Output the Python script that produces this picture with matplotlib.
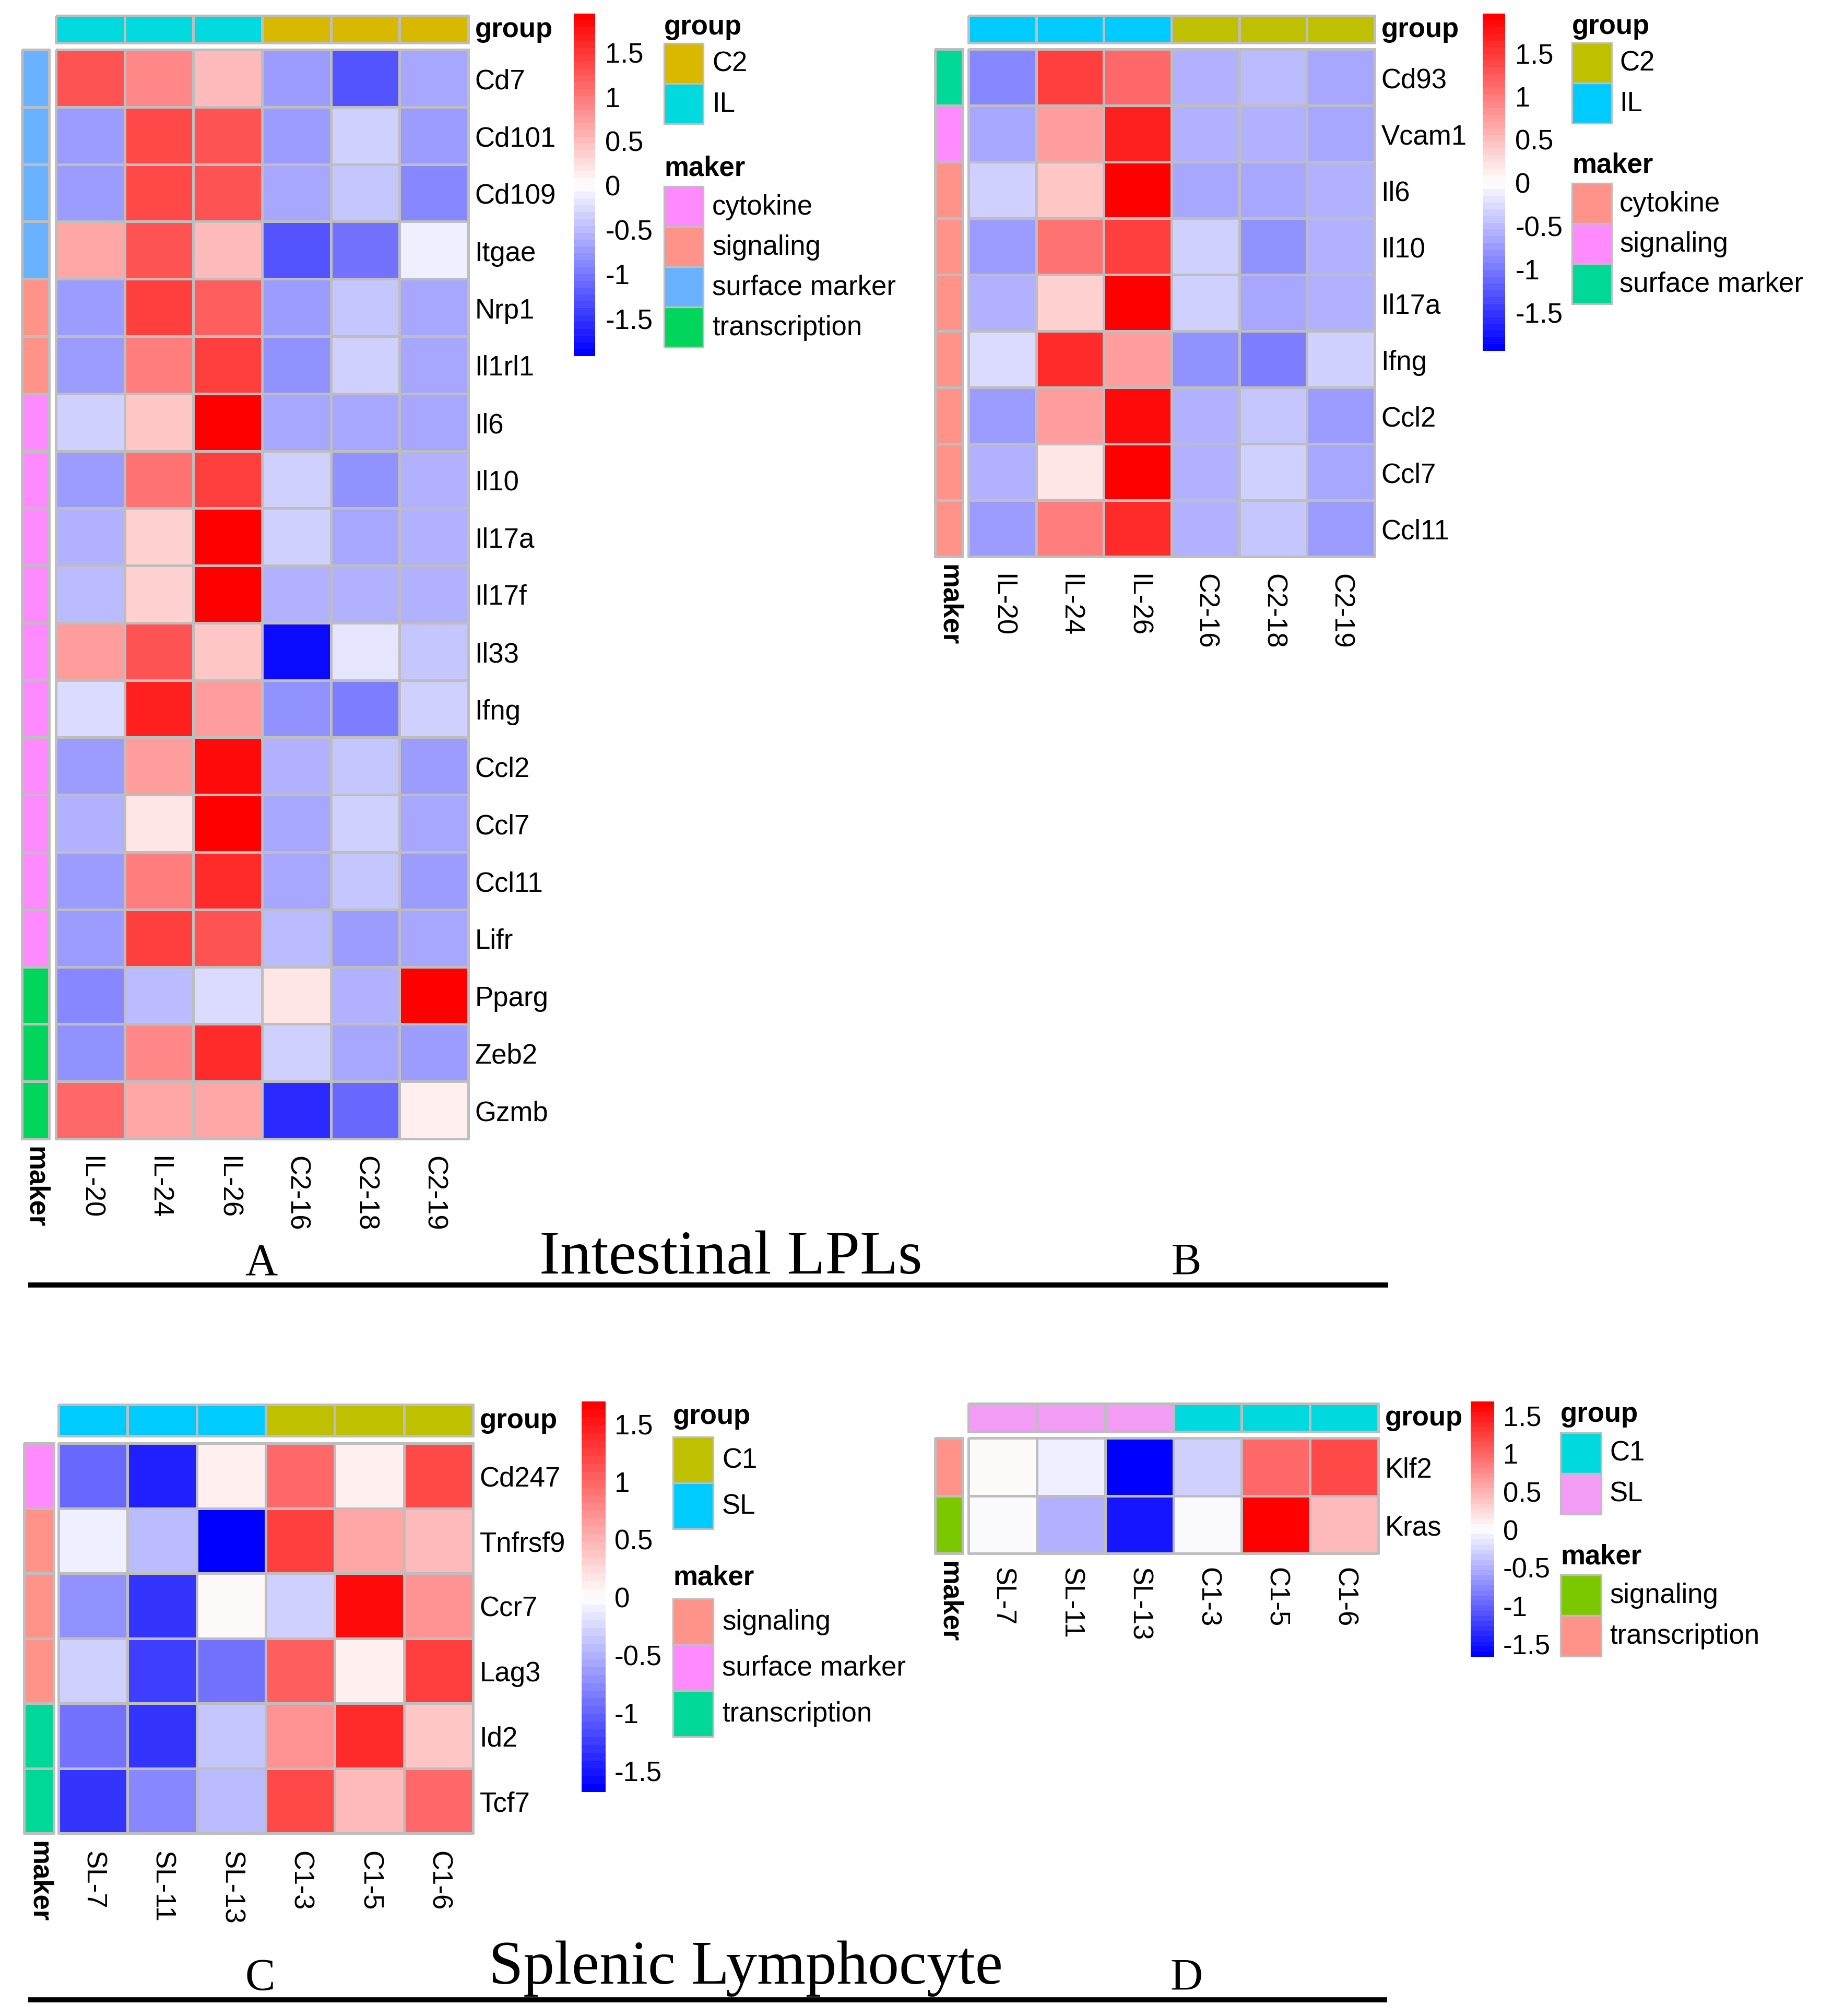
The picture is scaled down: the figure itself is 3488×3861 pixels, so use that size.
import numpy as np
import matplotlib
matplotlib.use("Agg")
import matplotlib.pyplot as plt
from matplotlib.colors import LinearSegmentedColormap, ListedColormap
from matplotlib.patches import Rectangle

W, H = 3488, 3862
DPI = 100
FS = 38
GRID = "#BEBEBE"
plt.rcParams["font.family"] = ["Liberation Sans", "DejaVu Sans"]
SERIF = ["Liberation Serif", "DejaVu Serif"]

cmap = LinearSegmentedColormap.from_list("bwr50", ["#0000FF", "#FFFFFF", "#FF0000"], N=50)

# ---------------- panel A : intestinal LPLs, all markers
genes_a = ["Cd7", "Cd101", "Cd109", "Itgae", "Nrp1", "Il1rl1", "Il6", "Il10", "Il17a",
           "Il17f", "Il33", "Ifng", "Ccl2", "Ccl7", "Ccl11", "Lifr", "Pparg", "Zeb2", "Gzmb"]
samples_a = ["IL-20", "IL-24", "IL-26", "C2-16", "C2-18", "C2-19"]
z_a = [
    [1.30, 0.85, 0.50, -0.72, -1.25, -0.68],
    [-0.73, 1.33, 1.30, -0.72, -0.36, -0.75],
    [-0.72, 1.32, 1.30, -0.62, -0.45, -0.85],
    [0.68, 1.28, 0.50, -1.25, -1.06, -0.15],
    [-0.75, 1.40, 1.20, -0.72, -0.45, -0.68],
    [-0.72, 1.00, 1.45, -0.82, -0.35, -0.62],
    [-0.38, 0.42, 1.90, -0.66, -0.68, -0.62],
    [-0.72, 1.05, 1.45, -0.38, -0.82, -0.60],
    [-0.55, 0.32, 1.90, -0.38, -0.65, -0.60],
    [-0.48, 0.32, 1.92, -0.60, -0.58, -0.58],
    [0.70, 1.30, 0.42, -1.80, -0.20, -0.45],
    [-0.28, 1.63, 0.72, -0.80, -0.98, -0.36],
    [-0.75, 0.72, 1.82, -0.60, -0.40, -0.70],
    [-0.60, 0.20, 1.93, -0.62, -0.35, -0.62],
    [-0.72, 0.95, 1.62, -0.62, -0.45, -0.75],
    [-0.72, 1.42, 1.25, -0.50, -0.72, -0.62],
    [-0.92, -0.52, -0.28, 0.22, -0.55, 1.93],
    [-0.82, 0.92, 1.62, -0.38, -0.62, -0.70],
    [1.13, 0.62, 0.68, -1.55, -1.10, 0.08],
]
group_a = ["IL", "IL", "IL", "C2", "C2", "C2"]
maker_a = ["surface marker"] * 4 + ["signaling"] * 2 + ["cytokine"] * 10 + ["transcription"] * 3
gcol_a = {"C2": "#D9B800", "IL": "#00D9DE"}
mcol_a = {"cytokine": "#FF8AFF", "signaling": "#FF9289", "surface marker": "#68B2FF",
          "transcription": "#00D65C"}

# ---------------- panel B : intestinal LPLs, subset
genes_b = ["Cd93", "Vcam1", "Il6", "Il10", "Il17a", "Ifng", "Ccl2", "Ccl7", "Ccl11"]
samples_b = ["IL-20", "IL-24", "IL-26", "C2-16", "C2-18", "C2-19"]
z_b = [
    [-0.88, 1.45, 1.10, -0.60, -0.48, -0.68],
    [-0.68, 0.72, 1.68, -0.60, -0.55, -0.65],
    [-0.38, 0.45, 1.93, -0.68, -0.65, -0.62],
    [-0.72, 1.08, 1.45, -0.35, -0.80, -0.60],
    [-0.60, 0.35, 1.93, -0.38, -0.65, -0.60],
    [-0.28, 1.62, 0.72, -0.80, -0.98, -0.33],
    [-0.75, 0.72, 1.80, -0.60, -0.40, -0.72],
    [-0.60, 0.20, 1.93, -0.60, -0.36, -0.65],
    [-0.75, 0.95, 1.62, -0.62, -0.45, -0.75],
]
group_b = ["IL", "IL", "IL", "C2", "C2", "C2"]
maker_b = ["surface marker", "signaling"] + ["cytokine"] * 7
gcol_b = {"C2": "#BFC000", "IL": "#00CBFF"}
mcol_b = {"cytokine": "#FF9289", "signaling": "#FF8BFF", "surface marker": "#00D898"}

# ---------------- panel C : splenic lymphocytes
genes_c = ["Cd247", "Tnfrsf9", "Ccr7", "Lag3", "Id2", "Tcf7"]
samples_c = ["SL-7", "SL-11", "SL-13", "C1-3", "C1-5", "C1-6"]
z_c = [
    [-0.95, -1.48, 0.10, 0.99, 0.10, 1.20],
    [-0.10, -0.47, -1.69, 1.24, 0.57, 0.45],
    [-0.72, -1.35, 0.03, -0.32, 1.58, 0.72],
    [-0.30, -1.22, -0.92, 1.05, 0.08, 1.25],
    [-0.92, -1.30, -0.35, 0.70, 1.38, 0.40],
    [-1.35, -0.75, -0.42, 1.18, 0.45, 0.95],
]
group_c = ["SL", "SL", "SL", "C1", "C1", "C1"]
maker_c = ["surface marker", "signaling", "signaling", "signaling", "transcription", "transcription"]
gcol_c = {"C1": "#BFC000", "SL": "#00CBFF"}
mcol_c = {"signaling": "#FF9289", "surface marker": "#FF8BFF", "transcription": "#00D898"}

# ---------------- panel D : splenic lymphocytes, subset
genes_d = ["Klf2", "Kras"]
samples_d = ["SL-7", "SL-11", "SL-13", "C1-3", "C1-5", "C1-6"]
z_d = [
    [0.03, -0.10, -1.68, -0.32, 0.95, 1.15],
    [-0.03, -0.52, -1.50, -0.03, 1.68, 0.45],
]
group_d = ["SL", "SL", "SL", "C1", "C1", "C1"]
maker_d = ["transcription", "signaling"]
gcol_d = {"C1": "#00D9DE", "SL": "#F29CF5"}
mcol_d = {"signaling": "#7CC800", "transcription": "#FF9289"}

cbar_ticks = [-1.5, -1, -0.5, 0, 0.5, 1, 1.5]
cbar_labels = ["-1.5", "-1", "-0.5", "0", "0.5", "1", "1.5"]


def frac(x0, y0, x1, y1):
    return [x0 / W, 1 - y1 / H, (x1 - x0) / W, (y1 - y0) / H]


def clean(ax):
    for s in ax.spines.values():
        s.set_visible(False)


def annot_mesh(ax, codes, colors):
    cm = ListedColormap(colors)
    m = ax.pcolormesh(codes, cmap=cm, vmin=-0.5, vmax=len(colors) - 0.5,
                      edgecolors=GRID, linewidth=2.4)
    m.set_clip_on(False)


def heatpanel(fig, ov, lay, genes, samples, z, groups, makers, gcol, mcol):
    z = np.array(z)
    nr, nc = z.shape
    hx0, hy0, hx1, hy1 = lay["heat"]
    lim = lay["lim"]

    ax = fig.add_axes(frac(*lay["heat"]))
    m = ax.pcolormesh(z, cmap=cmap, vmin=-lim, vmax=lim, edgecolors=GRID, linewidth=2.4)
    m.set_clip_on(False)
    ax.set_xlim(0, nc)
    ax.set_ylim(nr, 0)
    ax.set_xticks(np.arange(nc) + 0.5)
    ax.set_xticklabels(samples, rotation=270, fontsize=FS, ha="center", va="top")
    ax.set_yticks(np.arange(nr) + 0.5)
    ax.set_yticklabels(genes, fontsize=FS)
    ax.yaxis.tick_right()
    ax.tick_params(axis="y", length=0, pad=9)
    ax.tick_params(axis="x", length=0, pad=lay["colpad"])
    clean(ax)

    # column annotation
    gl = sorted(gcol)
    axg = fig.add_axes(frac(hx0, lay["gy"][0], hx1, lay["gy"][1]))
    annot_mesh(axg, np.array([[gl.index(g) for g in groups]]), [gcol[k] for k in gl])
    axg.set_xlim(0, nc)
    axg.set_ylim(1, 0)
    axg.set_xticks([])
    axg.set_yticks([])
    clean(axg)
    axg.annotate("group", xy=(1, 0.5), xycoords="axes fraction", xytext=(9, 0),
                 textcoords="offset points", va="center", ha="left",
                 fontsize=FS, fontweight="bold")

    # row annotation
    ml = sorted(mcol)
    axm = fig.add_axes(frac(lay["mx"][0], hy0, lay["mx"][1], hy1))
    annot_mesh(axm, np.array([[ml.index(k)] for k in makers]), [mcol[k] for k in ml])
    axm.set_xlim(0, 1)
    axm.set_ylim(nr, 0)
    axm.set_xticks([])
    axm.set_yticks([])
    clean(axm)
    axm.annotate("maker", xy=(0.5, 0), xycoords="axes fraction", xytext=(0, -10),
                 textcoords="offset points", va="top", ha="center", rotation=270,
                 fontsize=FS, fontweight="bold")

    # colour key
    axc = fig.add_axes(frac(*lay["cbar"]))
    edges = np.linspace(-lim, lim, 51)
    mids = (edges[:-1] + edges[1:]) / 2
    axc.pcolormesh([0, 1], edges, mids[:, None], cmap=cmap, vmin=-lim, vmax=lim)
    axc.set_ylim(-lim, lim)
    axc.set_xticks([])
    axc.yaxis.tick_right()
    axc.set_yticks(cbar_ticks)
    axc.set_yticklabels(cbar_labels, fontsize=FS)
    axc.tick_params(axis="y", length=0, pad=lay["cpad"])
    clean(axc)

    # legends
    lx, lw, tx = lay["leg_x"], lay["leg_w"], lay["leg_tx"]
    ph = lay["leg_h"]
    ov.text(lx, lay["gt"], "group", fontsize=FS, fontweight="bold", va="center", ha="left")
    for i, k in enumerate(gl):
        y = lay["g0"] + i * ph
        ov.add_patch(Rectangle((lx, y), lw, ph, fc=gcol[k], ec=GRID, lw=2.4))
        ov.text(tx, y + ph / 2, k, fontsize=FS, va="center", ha="left")
    ov.text(lx, lay["mt"], "maker", fontsize=FS, fontweight="bold", va="center", ha="left")
    for i, k in enumerate(ml):
        y = lay["m0"] + i * ph
        ov.add_patch(Rectangle((lx, y), lw, ph, fc=mcol[k], ec=GRID, lw=2.4))
        ov.text(tx, y + ph / 2, k, fontsize=FS, va="center", ha="left")


fig = plt.figure(figsize=(W / DPI, H / DPI), dpi=DPI)
ov = fig.add_axes([0, 0, 1, 1])
ov.set_xlim(0, W)
ov.set_ylim(H, 0)
ov.axis("off")

lay_a = dict(heat=(107, 96, 897, 2182), gy=(31, 83), mx=(42, 94), lim=1.93,
             cbar=(1099, 27, 1140, 683), cpad=14, colpad=23,
             leg_x=1272, leg_w=75, leg_tx=1364, leg_h=77, gt=52, g0=84, mt=322, m0=358)
lay_b = dict(heat=(1855, 95, 2633, 1067), gy=(31, 83), mx=(1791, 1844), lim=1.95,
             cbar=(2840, 27, 2883, 673), cpad=14, colpad=23,
             leg_x=3011, leg_w=76, leg_tx=3102, leg_h=77, gt=51, g0=83, mt=316, m0=352)
lay_c = dict(heat=(112, 2765, 906, 3512), gy=(2691, 2751), mx=(46, 103), lim=1.69,
             cbar=(1114, 2685, 1160, 3433), cpad=12, colpad=24,
             leg_x=1289, leg_w=77, leg_tx=1383, leg_h=88, gt=2713, g0=2753, mt=3022, m0=3063)
lay_d = dict(heat=(1855, 2755, 2640, 2976), gy=(2689, 2743), mx=(1791, 1844), lim=1.68,
             cbar=(2817, 2685, 2862, 3174), cpad=12, colpad=19,
             leg_x=2989, leg_w=78, leg_tx=3083, leg_h=78, gt=2709, g0=2745, mt=2982, m0=3017)

heatpanel(fig, ov, lay_a, genes_a, samples_a, z_a, group_a, maker_a, gcol_a, mcol_a)
heatpanel(fig, ov, lay_b, genes_b, samples_b, z_b, group_b, maker_b, gcol_b, mcol_b)
heatpanel(fig, ov, lay_c, genes_c, samples_c, z_c, group_c, maker_c, gcol_c, mcol_c)
heatpanel(fig, ov, lay_d, genes_d, samples_d, z_d, group_d, maker_d, gcol_d, mcol_d)

# section titles, panel letters and rules
ov.text(500, 2441, "A", family=SERIF, fontsize=62, ha="center", va="baseline")
ov.text(2272, 2441, "B", family=SERIF, fontsize=62, ha="center", va="baseline")
ov.text(1033, 2439, "Intestinal LPLs", family=SERIF, fontsize=86, ha="left", va="baseline")
ov.plot([54, 2659], [2462, 2462], color="black", lw=7, solid_capstyle="butt")

ov.text(498, 3811, "C", family=SERIF, fontsize=62, ha="center", va="baseline")
ov.text(2273, 3811, "D", family=SERIF, fontsize=62, ha="center", va="baseline")
ov.text(936, 3799, "Splenic Lymphocyte", family=SERIF, fontsize=86, ha="left", va="baseline")
ov.plot([54, 2657], [3831, 3831], color="black", lw=7, solid_capstyle="butt")

fig.savefig("out.png", dpi=DPI, facecolor="white")
